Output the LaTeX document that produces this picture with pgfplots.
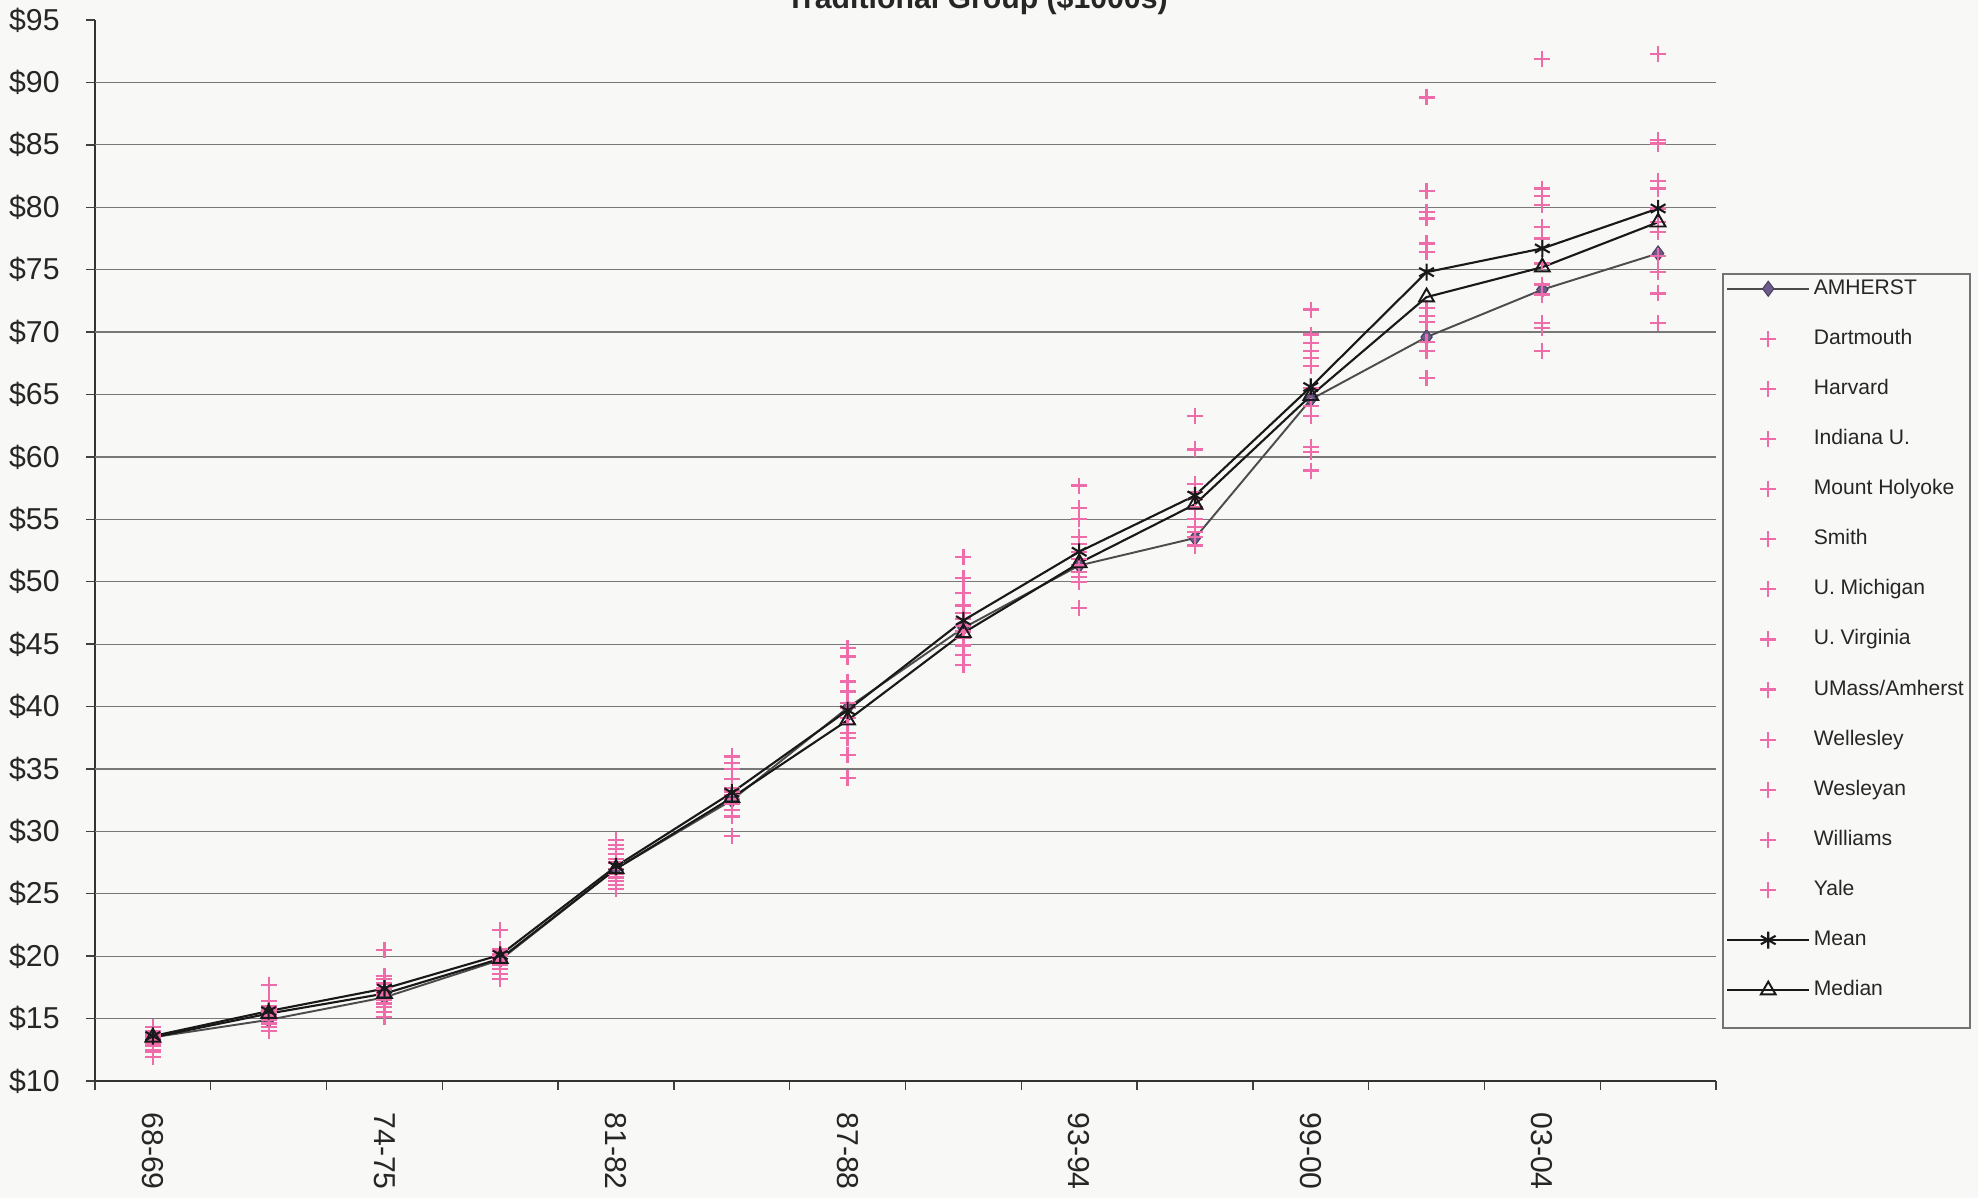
\documentclass[border=0pt]{standalone}
\usepackage{fontspec}
\setmainfont{Liberation Sans}
\usepackage{pgfplots}
\usepackage{pgfplotstable}
\pgfplotsset{compat=1.18}

\definecolor{pagebg}{RGB}{248,248,246}
\definecolor{pinkc}{RGB}{238,108,170}
\definecolor{amhc}{RGB}{108,92,140}
\definecolor{gridc}{RGB}{120,120,120}

% salary by school and year, $1000s (rank order within each year)
\pgfplotstableread{
k  amh  mean med  har  yal  dar  wes  wil  smi  mho  wel  uva  umi  ind  uma
0  13.5 13.6 13.5 14.3 14.0 13.8 13.6 13.5 13.4 13.2 13.0 12.8 12.5 12.3 11.9
1  14.9 15.6 15.4 17.7 16.4 16.0 15.8 15.6 15.5 15.3 15.1 14.9 14.6 14.3 14.0
2  16.7 17.4 17.0 20.5 18.4 18.2 17.8 17.4 17.1 16.9 16.5 16.2 15.9 15.5 15.1
3  19.7 20.1 19.8 22.1 20.6 20.4 20.2 20.0 19.8 19.7 19.5 19.3 19.0 18.6 18.2
4  27.0 27.2 27.0 29.3 28.9 28.6 28.2 27.8 27.5 27.0 26.6 26.3 26.0 25.7 25.4
5  32.5 33.1 32.7 36.0 35.5 35.0 34.2 33.5 33.2 32.9 32.6 32.2 31.7 31.2 29.6
6  39.9 39.7 38.9 44.7 44.0 42.0 41.2 40.3 39.9 39.1 38.6 37.9 37.5 36.1 34.3
7  46.3 46.9 45.9 52.0 50.3 49.1 48.1 47.5 47.0 46.5 46.0 45.5 44.9 44.1 43.3
8  51.3 52.4 51.5 57.7 55.9 55.0 53.6 53.0 52.4 51.8 51.3 50.8 50.4 50.0 47.9
9  53.5 56.9 56.2 63.3 60.6 57.8 57.2 56.6 56.0 55.8 55.0 54.4 54.0 53.6 52.9
10 64.6 65.6 64.9 71.8 69.8 69.1 68.5 67.9 67.3 65.5 64.1 63.3 60.8 60.4 58.9
11 69.6 74.8 72.8 88.8 81.3 79.6 79.1 77.1 76.4 71.9 71.3 70.8 69.2 68.5 66.3
12 73.4 76.7 75.2 91.9 81.5 80.9 80.2 78.4 77.5 75.5 73.8 73.0 70.7 70.3 68.5
13 76.3 79.9 78.8 92.3 85.4 85.1 82.1 81.5 79.9 78.8 78.0 76.1 74.8 73.1 70.7
}\salary

\pgfplotsset{
  school/.style={only marks, mark=+, mark size=0.8mm,
    mark options={draw=pinkc, line width=0.65pt}},
}

\begin{document}
\begin{tikzpicture}
\useasboundingbox (0,0) rectangle (197.8mm,119.8mm);
\fill[pagebg] (0,0) rectangle (197.8mm,119.8mm);

\node[anchor=base, font=\fontsize{8.6}{10}\selectfont\bfseries, text=black!85]
  at (97.7mm,118.9mm) {Traditional Group (\$1000s)};

% legend frame
\draw[black!55, line width=0.4pt] (172.3mm,17.0mm) rectangle (197.0mm,92.4mm);

\begin{axis}[
  at={(9.5mm,11.7mm)}, anchor=south west,
  scale only axis, width=162.1mm, height=106.1mm,
  xmin=-0.5, xmax=13.5, ymin=10, ymax=95,
  axis x line*=bottom, axis y line*=left,
  axis line style={black!80, line width=0.5pt},
  tick align=outside,
  % tick marks sit between the years; names under every other year
  xtick={-0.5,0.5,...,13.5},
  xticklabels={},
  extra x ticks={0,2,4,6,8,10,12},
  extra x tick labels={68-69,74-75,81-82,87-88,93-94,99-00,03-04},
  extra x tick style={major tick length=0pt,
    xticklabel style={rotate=-90, anchor=west}},
  major tick length=0.9mm,
  tick style={black!75, line width=0.4pt},
  ytick={10,15,...,95},
  yticklabels={\$10,\$15,\$20,\$25,\$30,\$35,\$40,\$45,\$50,\$55,\$60,\$65,\$70,\$75,\$80,\$85,\$90,\$95},
  extra y ticks={15,20,...,90},
  extra y tick labels={},
  extra y tick style={grid=major, major tick length=0pt},
  grid style={gridc, line width=0.35pt},
  tick label style={font=\fontsize{8.6}{10}\selectfont, text=black!85},
  xticklabel shift=1.9mm,
  yticklabel shift=1.4mm,
  clip=false,
  legend image code/.code={\draw[mark repeat=2,mark phase=2,#1]
    plot coordinates {(0mm,0mm) (4.1mm,0mm) (8.2mm,0mm)};},
  legend style={at={(axis description cs:1.004,0.7568)}, anchor=north west,
    draw=none, fill=none,
    font=\fontsize{6}{7}\selectfont, text=black!85,
    inner xsep=0.3mm, inner ysep=0mm, row sep=3.01mm,
    nodes={inner xsep=0.35mm, inner ysep=0pt, text height=1.55mm, text depth=0.45mm},
    cells={anchor=west}},
  legend cell align=left,
]
\addplot[black!70, line width=0.55pt, mark=diamond*, mark size=0.75mm,
  mark options={fill=amhc, draw=amhc!70!black, line width=0.3pt}]
  table[x=k, y=amh] \salary;
\addlegendentry{AMHERST}
\addplot[school] table[x=k, y=dar] \salary; \addlegendentry{Dartmouth}
\addplot[school] table[x=k, y=har] \salary; \addlegendentry{Harvard}
\addplot[school] table[x=k, y=ind] \salary; \addlegendentry{Indiana U.}
\addplot[school] table[x=k, y=mho] \salary; \addlegendentry{Mount Holyoke}
\addplot[school] table[x=k, y=smi] \salary; \addlegendentry{Smith}
\addplot[school] table[x=k, y=umi] \salary; \addlegendentry{U. Michigan}
\addplot[school] table[x=k, y=uva] \salary; \addlegendentry{U. Virginia}
\addplot[school] table[x=k, y=uma] \salary; \addlegendentry{UMass/Amherst}
\addplot[school] table[x=k, y=wel] \salary; \addlegendentry{Wellesley}
\addplot[school] table[x=k, y=wes] \salary; \addlegendentry{Wesleyan}
\addplot[school] table[x=k, y=wil] \salary; \addlegendentry{Williams}
\addplot[school] table[x=k, y=yal] \salary; \addlegendentry{Yale}
\addplot[black!90, line width=0.6pt, mark=asterisk, mark size=0.85mm,
  mark options={line width=0.6pt}]
  table[x=k, y=mean] \salary;
\addlegendentry{Mean}
\addplot[black!90, line width=0.6pt, mark=triangle, mark size=0.85mm,
  mark options={line width=0.55pt}]
  table[x=k, y=med] \salary;
\addlegendentry{Median}
\end{axis}
\end{tikzpicture}
\end{document}
